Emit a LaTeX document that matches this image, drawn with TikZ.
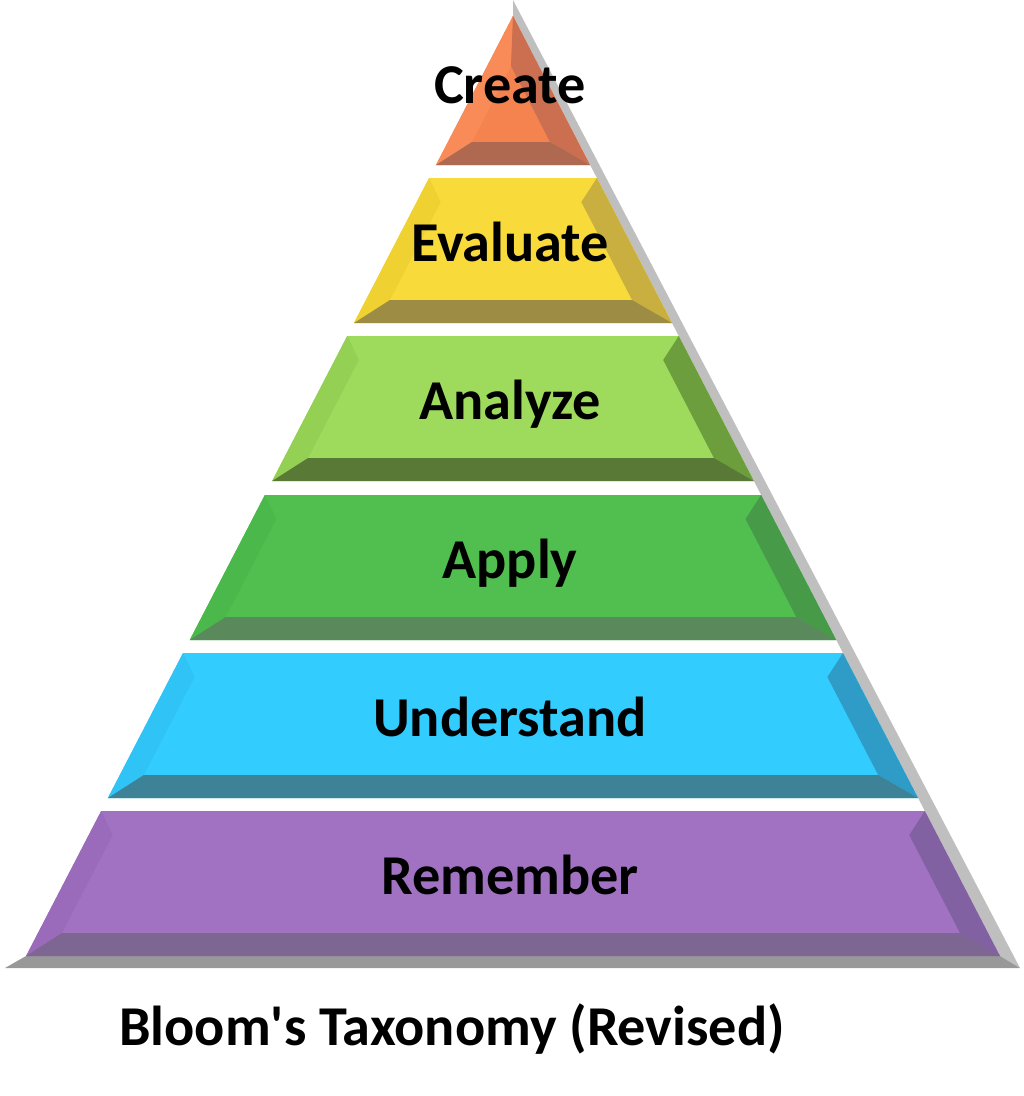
\documentclass[tikz,border=0pt]{standalone}
\usepackage{fontspec}
\setmainfont{Carlito}
\usepackage{tikz}
\usetikzlibrary{calc}

\definecolor{shadeside}{HTML}{BFBFBF}
\definecolor{shadebase}{HTML}{989898}
\definecolor{create}{HTML}{F5834F}
\definecolor{create-l}{HTML}{F88B57}
\definecolor{create-r}{HTML}{CB6F50}
\definecolor{create-b}{HTML}{AE6950}
\definecolor{evaluate}{HTML}{F8DA3A}
\definecolor{evaluate-l}{HTML}{F0D132}
\definecolor{evaluate-r}{HTML}{C8AF3F}
\definecolor{evaluate-b}{HTML}{9C8C44}
\definecolor{analyze}{HTML}{9EDA5C}
\definecolor{analyze-l}{HTML}{93D053}
\definecolor{analyze-r}{HTML}{6C9E3E}
\definecolor{analyze-b}{HTML}{587A36}
\definecolor{apply}{HTML}{50BF50}
\definecolor{apply-l}{HTML}{4AB84A}
\definecolor{apply-r}{HTML}{479A47}
\definecolor{apply-b}{HTML}{5A8A5C}
\definecolor{understand}{HTML}{33CCFF}
\definecolor{understand-l}{HTML}{30C3F5}
\definecolor{understand-r}{HTML}{2E9CC6}
\definecolor{understand-b}{HTML}{3E8298}
\definecolor{remember}{HTML}{A172C2}
\definecolor{remember-l}{HTML}{9A6BBA}
\definecolor{remember-r}{HTML}{8261A2}
\definecolor{remember-b}{HTML}{7E6692}

\begin{document}
\begin{tikzpicture}[x=0.01cm,y=-0.01cm,
    levtext/.style={font=\fontsize{16}{19}\selectfont\bfseries,inner sep=0pt,anchor=base}]
  \useasboundingbox (0,0) rectangle (1023,1096);
  % grey edge on the right and under the base
  \fill[shadeside] (513,0) -- (1020,968) -- (1000,956) -- (513,16) -- cycle;
  \fill[shadebase] (5,968) -- (1020,968) -- (1000,956) -- (26,956) -- cycle;
  % top level
  \fill[create] (513,16) -- (436,165) -- (590,165) -- cycle;
  \fill[create-l] (513,16) -- (436,165) -- (472,142) -- (511,66) -- cycle;
  \fill[create-r] (513,16) -- (511,66) -- (550,142) -- (590,165) -- cycle;
  \fill[create-b] (436,165) -- (590,165) -- (550,142) -- (472,142) -- cycle;
  \node[levtext] (create) at (510,103) {Create};
  % lower levels
  \foreach \t/\b/\c/\txt in {178/323/evaluate/Evaluate,336/481/analyze/Analyze,
      495/640/apply/Apply,653/798/understand/Understand,811/956/remember/Remember}{
    \pgfmathsetmacro\tl{513-0.518*(\t-16)}
    \pgfmathsetmacro\tr{513+0.518*(\t-16)}
    \pgfmathsetmacro\bl{513-0.518*(\b-16)}
    \pgfmathsetmacro\br{513+0.518*(\b-16)}
    \pgfmathsetmacro\itl{513-0.518*(\t+24-16)+24}
    \pgfmathsetmacro\itr{513+0.518*(\t+24-16)-28}
    \pgfmathsetmacro\ibl{513-0.518*(\b-23-16)+24}
    \pgfmathsetmacro\ibr{513+0.518*(\b-23-16)-28}
    \fill[\c] (\tl,\t) -- (\tr,\t) -- (\br,\b) -- (\bl,\b) -- cycle;
    \fill[\c-l] (\tl,\t) -- (\itl,\t+24) -- (\ibl,\b-23) -- (\bl,\b) -- cycle;
    \fill[\c-r] (\tr,\t) -- (\br,\b) -- (\ibr,\b-23) -- (\itr,\t+24) -- cycle;
    \fill[\c-b] (\bl,\b) -- (\br,\b) -- (\ibr,\b-23) -- (\ibl,\b-23) -- cycle;
    \node[levtext] (\c) at (510,\b-62) {\txt};
  }
  % title
  \node[levtext] (caption) at (452,1045) {Bloom\textquotesingle s Taxonomy (Revised)};
\end{tikzpicture}
\end{document}
